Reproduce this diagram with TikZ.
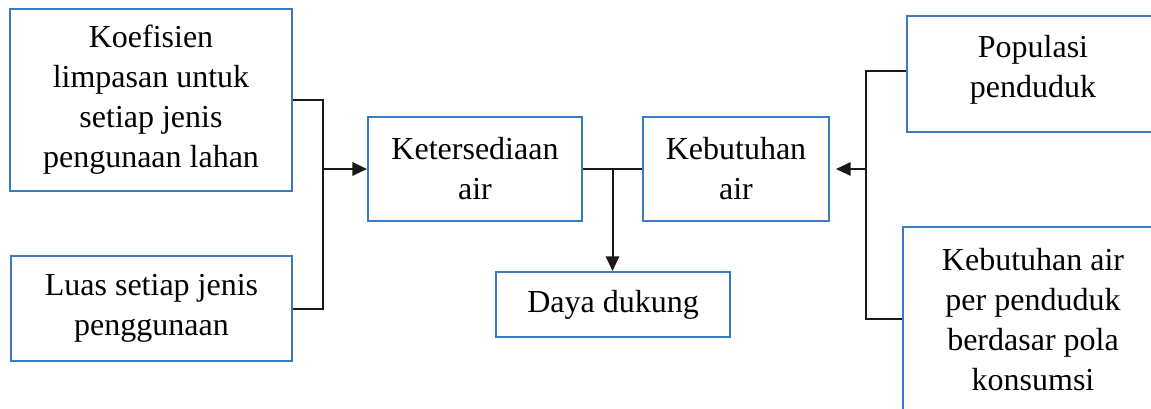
\documentclass[tikz,border=0pt]{standalone}
\usepackage{fontspec}
\setmainfont{Liberation Serif}
\usetikzlibrary{arrows.meta,calc}
\definecolor{boxblue}{HTML}{3A7BBF}
\tikzset{
  box/.style={draw=boxblue, line width=1.5pt, rectangle, inner sep=0pt, align=center,
    font=\fontsize{24}{30}\selectfont},
  conn/.style={draw=black!90, line width=1.5pt},
  arr/.style={conn, -{Triangle[length=11pt,width=10pt]}}
}
\begin{document}
\begin{tikzpicture}[x=0.75pt,y=-0.75pt]
\useasboundingbox (0,0) rectangle (1151,408);
\fill[white] (0,0) rectangle (1151,408);
\clip (0,0) rectangle (1151,408);
\node[box, minimum width=211.5pt, minimum height=136.5pt] (koef) at (151,100)
  {Koefisien\\limpasan untuk\\setiap jenis\\pengunaan lahan};
\node[box, minimum width=210.75pt, minimum height=78.75pt] (luas) at (151.5,308.5)
  {Luas setiap jenis\\penggunaan};
\node[box, minimum width=160.5pt, minimum height=78pt] (kets) at (475,169)
  {Ketersediaan\\air};
\node[box, minimum width=139.5pt, minimum height=78pt] (kebut) at (736,169)
  {Kebutuhan\\air};
\node[box, minimum width=175.5pt, minimum height=48.75pt] (daya) at (613,304.5)
  {Daya dukung};
\node[box, minimum width=189pt, minimum height=87pt] (pop) at (1033,74)
  {Populasi\\penduduk\rule[-12pt]{0pt}{12pt}};
\node[box, minimum width=195pt, minimum height=147pt] (keb2) at (1033,325)
  {Kebutuhan air\\per penduduk\\berdasar pola\\konsumsi\rule[-8.5pt]{0pt}{8.5pt}};
% left junction
\coordinate (jl) at (323,169);
\draw[conn] (koef.east) -| (jl) |- (luas.east);
\draw[arr] (jl) -- (kets.west);
% middle junction
\draw[conn] (kets.east) -- (kebut.west);
\coordinate (jm) at ($(kets.east)!0.5!(kebut.west)$);
\draw[arr] (jm) -- (jm |- daya.north);
% right junction
\coordinate (jr) at (866,169);
\draw[conn] ($(pop.west)+(0,-3)$) -| (jr) |- ($(keb2.west)+(0,-6)$);
\draw[arr, shorten >=4.5pt] (jr) -- (kebut.east);
\end{tikzpicture}
\end{document}
